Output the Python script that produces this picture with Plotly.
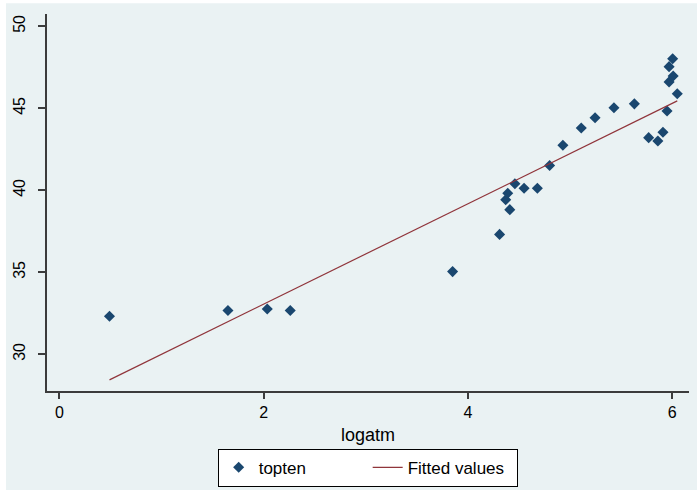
import plotly.graph_objects as go

# --- data ---
logatm = [0.49, 1.65, 2.035, 2.26, 3.85, 4.31, 4.37, 4.39, 4.41, 4.46, 4.55, 4.68,
          4.80, 4.93, 5.11, 5.245, 5.43, 5.63, 5.77, 5.86, 5.91, 5.95, 5.97, 6.01,
          5.97, 6.005, 6.05]
topten = [32.32, 32.67, 32.76, 32.67, 35.04, 37.31, 39.42, 39.82, 38.82, 40.40, 40.12, 40.12,
          41.51, 42.75, 43.80, 44.42, 45.03, 45.27, 43.21, 43.00, 43.54, 44.84, 46.61, 46.97,
          47.54, 48.02, 45.89]
fit_x = [0.49, 6.05]
fit_y = [28.44, 45.45]

x_ticks = [0, 2, 4, 6]
y_ticks = [30, 35, 40, 45, 50]

BG = "#EAF2F3"
NAVY = "#1A476F"
MAROON = "#90353B"
FONT = "Liberation Sans, Arial, sans-serif"

fig = go.Figure()
fig.add_trace(go.Scatter(
    x=logatm, y=topten, mode="markers", name="topten",
    marker=dict(symbol="diamond", size=8.5, color=NAVY),
))
fig.add_trace(go.Scatter(
    x=fit_x, y=fit_y, mode="lines", name="Fitted values",
    line=dict(color=MAROON, width=1.2),
))

W, H = 697, 495
L, R, T, B = 47, 8, 14, 96
pw, ph = W - L - R, H - T - B

# outer light background with thin white page border at top/left
fig.add_shape(type="rect", xref="paper", yref="paper", layer="below",
              x0=(6 - L) / pw, x1=(W + 5 - L) / pw,
              y0=-(B + 5) / ph, y1=(H - B - 3) / ph,
              fillcolor=BG, line=dict(width=0))

fig.update_layout(
    width=W, height=H,
    margin=dict(l=L, r=R, t=T, b=B, pad=0),
    paper_bgcolor="white",
    plot_bgcolor="white",
    font=dict(family=FONT, color="#000000", size=16),
    showlegend=True,
    legend=dict(
        orientation="h", x=0.4995, xanchor="center",
        y=-(458 - (T + ph)) / ph, yanchor="top",
        bgcolor="white", bordercolor="#000000", borderwidth=1,
        font=dict(size=17, family=FONT, color="#000000"),
        entrywidth=104, entrywidthmode="pixels",
        tracegroupgap=0,
    ),
    xaxis=dict(
        range=[-0.122, 6.165], tickvals=x_ticks, ticktext=[str(v) for v in x_ticks],
        showgrid=False, zeroline=False,
        showline=True, linecolor="#3c3c3c", linewidth=1.5,
        ticks="outside", ticklen=6, tickwidth=1.5, tickcolor="#3c3c3c",
        tickfont=dict(size=16),
        title=dict(text="logatm", font=dict(size=18), standoff=8),
    ),
    yaxis=dict(
        range=[27.76, 50.75], tickvals=y_ticks, ticktext=[str(v) for v in y_ticks],
        showgrid=True, gridcolor=BG, gridwidth=1.2, zeroline=False,
        showline=True, linecolor="#3c3c3c", linewidth=1.5,
        ticks="outside", ticklen=7, tickwidth=1.5, tickcolor="#3c3c3c",
        tickangle=-90, tickfont=dict(size=16), ticklabelstandoff=7,
    ),
)

fig.write_html("out.html")
